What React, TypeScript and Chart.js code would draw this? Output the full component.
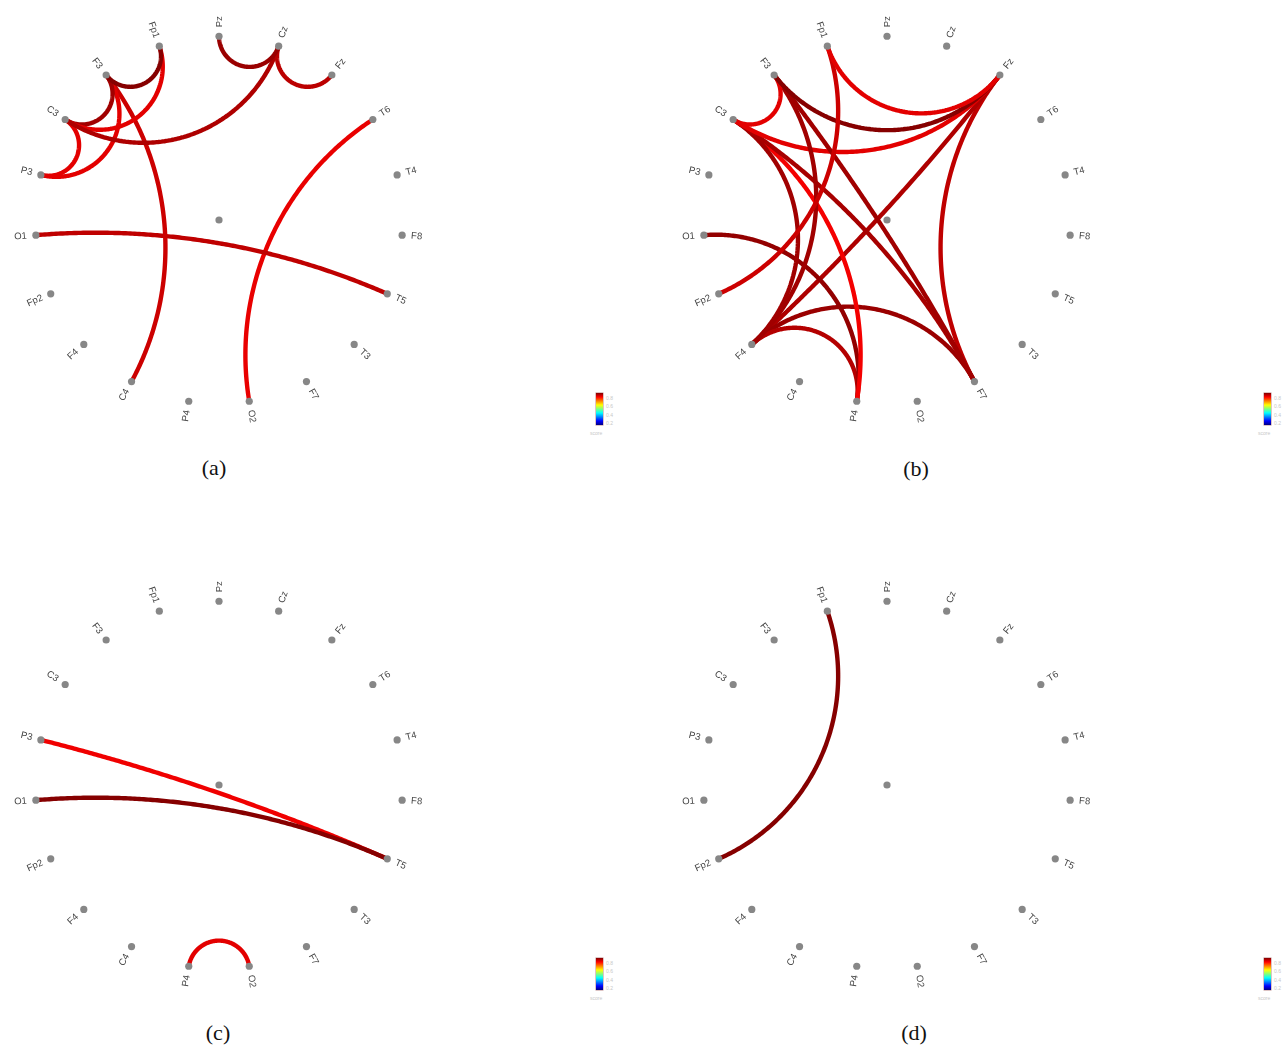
import React, { useEffect, useRef } from 'react';
import { Chart, registerables } from 'chart.js';

Chart.register(...registerables);

// Electrode order, clockwise from the top of the ring
const channels = ['Pz', 'Cz', 'Fz', 'T6', 'T4', 'F8', 'T5', 'T3', 'F7', 'O2', 'P4', 'C4', 'F4', 'Fp2', 'O1', 'P3', 'C3', 'F3', 'Fp1'];

// Panel (a)
const edgesA: [string, string][] = [
  ['Pz', 'Cz'], ['Cz', 'Fz'], ['C3', 'Cz'], ['Fp1', 'F3'], ['Fp1', 'C3'], ['F3', 'C3'],
  ['F3', 'P3'], ['C3', 'P3'], ['F3', 'C4'], ['O1', 'T5'], ['T6', 'O2'],
];
const scoresA = [0.9, 0.875, 0.885, 0.915, 0.845, 0.895, 0.845, 0.845, 0.862, 0.872, 0.84];

// Panel (b)
const edgesB: [string, string][] = [
  ['Fp1', 'Fz'], ['Fp1', 'Fp2'], ['F3', 'Fz'], ['F3', 'C3'], ['F3', 'F7'], ['F3', 'F4'],
  ['C3', 'Fz'], ['C3', 'F7'], ['C3', 'F4'], ['C3', 'P4'], ['O1', 'P4'], ['F4', 'P4'],
  ['F4', 'F7'], ['F4', 'Fz'], ['Fz', 'F7'],
];
const scoresB = [0.845, 0.862, 0.915, 0.845, 0.895, 0.895, 0.845, 0.89, 0.895, 0.832, 0.905, 0.88, 0.9, 0.885, 0.872];

// Panel (c)
const edgesC: [string, string][] = [['O1', 'T5'], ['P3', 'T5'], ['P4', 'O2']];
const scoresC = [0.915, 0.835, 0.845];

// Panel (d)
const edgesD: [string, string][] = [['Fp1', 'Fp2']];
const scoresD = [0.915];

// Colour scale
const scoreMin = 0.15;
const scoreMax = 0.92;
const colorbarTicks = ['0.8', '0.6', '0.4', '0.2'];

const RING_PX = 187;
const SIZE = 460;
const HALF = SIZE / 2 / RING_PX;

function jet(t: number): string {
  const c = (v: number) => Math.max(0, Math.min(1, v));
  const r = c(1.5 - Math.abs(4 * t - 3));
  const g = c(1.5 - Math.abs(4 * t - 2));
  const b = c(1.5 - Math.abs(4 * t - 1));
  return `rgb(${Math.round(r * 255)},${Math.round(g * 255)},${Math.round(b * 255)})`;
}

function scoreColor(s: number): string {
  return jet((s - scoreMin) / (scoreMax - scoreMin));
}

function theta(name: string): number {
  return (channels.indexOf(name) * 2 * Math.PI) / channels.length;
}

function nodePos(name: string): { x: number; y: number } {
  const t = theta(name);
  return { x: Math.sin(t), y: Math.cos(t) };
}

// Geodesic of the Poincaré disk between two ring nodes
function geodesic(a: string, b: string, n = 80): { x: number; y: number }[] {
  const p = nodePos(a);
  const q = nodePos(b);
  let d = Math.abs(theta(a) - theta(b));
  if (d > Math.PI) d = 2 * Math.PI - d;
  if (Math.abs(Math.PI - d) < 1e-3) return [p, q];
  const mx = (p.x + q.x) / 2;
  const my = (p.y + q.y) / 2;
  const ml = Math.hypot(mx, my);
  const dist = 1 / Math.cos(d / 2);
  const cx = (mx / ml) * dist;
  const cy = (my / ml) * dist;
  const r = Math.tan(d / 2);
  const a1 = Math.atan2(p.y - cy, p.x - cx);
  const a2 = Math.atan2(q.y - cy, q.x - cx);
  let delta = a2 - a1;
  while (delta > Math.PI) delta -= 2 * Math.PI;
  while (delta < -Math.PI) delta += 2 * Math.PI;
  const pts: { x: number; y: number }[] = [];
  for (let i = 0; i <= n; i++) {
    const ang = a1 + (delta * i) / n;
    pts.push({ x: cx + r * Math.cos(ang), y: cy + r * Math.sin(ang) });
  }
  return pts;
}

const labelPlugin = {
  id: 'ringLabels',
  afterDatasetsDraw(chart: any) {
    const ctx = chart.ctx as CanvasRenderingContext2D;
    const xs = chart.scales.x;
    const ys = chart.scales.y;
    ctx.save();
    ctx.font = '9.5px "Liberation Sans", Arial, sans-serif';
    ctx.fillStyle = '#444';
    ctx.textBaseline = 'middle';
    channels.forEach((name) => {
      const p = nodePos(name);
      const px = xs.getPixelForValue(p.x);
      const py = ys.getPixelForValue(p.y);
      const deg = (theta(name) * 180) / Math.PI;
      const phi = theta(name) - Math.PI / 2;
      ctx.save();
      ctx.translate(px, py);
      if (deg <= 180.01) {
        ctx.rotate(phi);
        ctx.textAlign = 'left';
        ctx.fillText(name, 9, 0);
      } else {
        ctx.rotate(phi + Math.PI);
        ctx.textAlign = 'right';
        ctx.fillText(name, -9, 0);
      }
      ctx.restore();
    });
    ctx.restore();
  },
};

function Ring({ edges, scores, cx, cy }: { edges: [string, string][]; scores: number[]; cx: number; cy: number }) {
  const ref = useRef<HTMLCanvasElement | null>(null);
  useEffect(() => {
    if (!ref.current) return;
    const nodeData = channels.map((c) => nodePos(c)).concat([{ x: 0, y: 0 }]);
    const datasets: any[] = [
      {
        label: 'nodes',
        data: nodeData,
        pointRadius: 3.6,
        pointBackgroundColor: '#878787',
        pointBorderWidth: 0,
        showLine: false,
      },
    ];
    edges.forEach((e, i) => {
      datasets.push({
        label: `${e[0]}-${e[1]}`,
        data: geodesic(e[0], e[1]),
        showLine: true,
        borderColor: scoreColor(scores[i]),
        borderWidth: 4.4,
        pointRadius: 0,
        tension: 0.0001,
        capBezierPoints: false,
        fill: false,
        borderCapStyle: 'butt',
        borderJoinStyle: 'round',
      });
    });
    const chart = new Chart(ref.current, {
      type: 'scatter',
      data: { datasets },
      options: {
        animation: false,
        responsive: false,
        maintainAspectRatio: false,
        events: [],
        layout: { padding: 0 },
        plugins: { legend: { display: false }, tooltip: { enabled: false } },
        scales: {
          x: { type: 'linear', min: -HALF, max: HALF, display: false },
          y: { type: 'linear', min: -HALF, max: HALF, display: false },
        },
      } as any,
      plugins: [labelPlugin as any],
    });
    return () => chart.destroy();
  }, []);
  return (
    <canvas
      ref={ref}
      width={SIZE}
      height={SIZE}
      style={{ position: 'absolute', left: cx - SIZE / 2, top: cy - SIZE / 2, width: SIZE, height: SIZE }}
    />
  );
}

function Colorbar({ left, top }: { left: number; top: number }) {
  const stops = [0, 0.125, 0.375, 0.625, 0.875, 1].map((t) => `${jet(t)} ${(t * 100).toFixed(1)}%`).join(', ');
  const h = 32;
  return (
    <div style={{ position: 'absolute', left, top }}>
      <div
        style={{
          position: 'absolute',
          left: 0,
          top: 0,
          width: 7,
          height: h,
          background: `linear-gradient(to top, ${stops})`,
          boxShadow: '0 0 0 0.5px #b88',
        }}
      />
      {colorbarTicks.map((t, i) => (
        <div
          key={t}
          style={{
            position: 'absolute',
            left: 10,
            top: 5 + i * 8.3 - 3,
            fontSize: 5,
            lineHeight: '6px',
            color: '#c8c8c8',
            fontFamily: '"Liberation Sans", Arial, sans-serif',
          }}
        >
          {t}
        </div>
      ))}
      <div
        style={{
          position: 'absolute',
          left: -6,
          top: 37,
          fontSize: 5,
          lineHeight: '6px',
          color: '#c8c8c8',
          fontFamily: '"Liberation Sans", Arial, sans-serif',
        }}
      >
        score
      </div>
    </div>
  );
}

function Caption({ text, x, y }: { text: string; x: number; y: number }) {
  return (
    <div
      style={{
        position: 'absolute',
        left: x,
        top: y,
        transform: 'translate(-50%, -50%)',
        fontFamily: '"Liberation Serif", "Times New Roman", serif',
        fontSize: 22,
        color: '#111',
        whiteSpace: 'nowrap',
      }}
    >
      {text}
    </div>
  );
}

export default function App() {
  return (
    <div style={{ position: 'absolute', left: 0, top: 0, width: 1284, height: 1049, background: '#fff', overflow: 'hidden' }}>
      <Ring edges={edgesA} scores={scoresA} cx={219} cy={220} />
      <Ring edges={edgesB} scores={scoresB} cx={887} cy={220} />
      <Ring edges={edgesC} scores={scoresC} cx={219} cy={785} />
      <Ring edges={edgesD} scores={scoresD} cx={887} cy={785} />
      <Colorbar left={596} top={393} />
      <Colorbar left={1264} top={393} />
      <Colorbar left={596} top={958} />
      <Colorbar left={1264} top={958} />
      <Caption text="(a)" x={214} y={468} />
      <Caption text="(b)" x={916} y={469} />
      <Caption text="(c)" x={218} y={1033} />
      <Caption text="(d)" x={914} y={1033} />
    </div>
  );
}
